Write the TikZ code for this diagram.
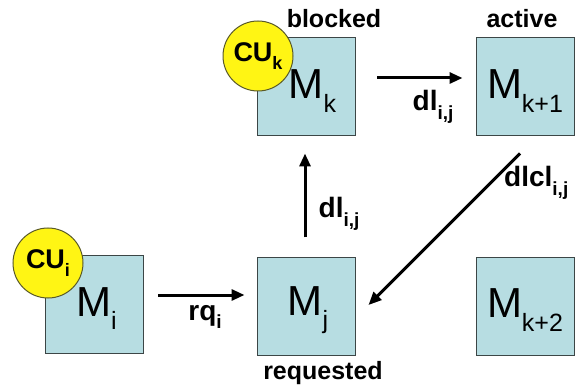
\documentclass[tikz,border=0pt]{standalone}
\usepackage{fontspec}
\setmainfont{Liberation Sans}
\usetikzlibrary{arrows.meta,calc}
\definecolor{boxfill}{RGB}{183,221,226}
\definecolor{boxline}{RGB}{60,70,70}
\definecolor{cufill}{RGB}{255,245,20}
\definecolor{culine}{RGB}{90,90,40}
\newcommand{\bigM}[1]{{\fontsize{42}{42}\selectfont M\raisebox{-0.32em}{\fontsize{25}{25}\selectfont #1}}}
\newcommand{\lbl}[2]{{\bfseries\fontsize{28}{28}\selectfont #1\raisebox{-0.3em}{\fontsize{19}{19}\selectfont #2}}}
\newcommand{\culbl}[1]{{\bfseries\fontsize{27}{27}\selectfont CU\raisebox{-0.3em}{\fontsize{18}{18}\selectfont #1}}}
\begin{document}
\begin{tikzpicture}[x=1pt,y=-1pt,
  mbox/.style={draw=boxline,line width=1pt,fill=boxfill,minimum width=98pt,minimum height=98pt,inner sep=0pt},
  cu/.style={circle,draw=culine,line width=1pt,fill=cufill,minimum size=70pt,inner sep=0pt},
  arr/.style={line width=3pt,-{Triangle[length=13pt,width=11pt]}},
  word/.style={font=\bfseries\fontsize{25}{25}\selectfont,inner sep=0pt}]
\path[use as bounding box,fill=white] (0,0) rectangle (575,387);
\node[mbox] (Mi) at (94.5,304.5) {};
\node[mbox] (Mk) at (306.5,87) {};
\node[mbox] (Mk1) at (525,87) {};
\node[mbox] (Mj) at (306,306) {};
\node[mbox] (Mk2) at (525,306) {};
\node (tMi) at ($(Mi)+(2,4)$) {\bigM{i}};
\node (tMk) at ($(Mk)+(6,4)$) {\bigM{k}};
\node (tMk1) at ($(Mk1)+(0,4)$) {\bigM{k+1}};
\node (tMj) at ($(Mj)+(2,4)$) {\bigM{j}};
\node (tMk2) at ($(Mk2)+(0,4)$) {\bigM{k+2}};
\node[cu] (CUk) at (258,56) {\culbl{k}};
\node[cu] (CUi) at (48,263) {\culbl{i}};
\node[word] (blocked) at (334,19) {blocked};
\node[word] (active) at (522,19) {active};
\node[word] (requested) at (323,373) {requested};
\draw[arr,shorten <=21pt,shorten >=13pt] (Mk.east |- 0,78) -- (Mk1.west |- 0,78);
\draw[arr,shorten <=14pt,shorten >=12pt] (Mi.east |- 0,295) -- (Mj.west |- 0,295);
\draw[arr,shorten <=19pt,shorten >=17pt] (Mj.north -| 305,0) -- (Mk.south -| 305,0);
\draw[arr] ($(Mk1.south)+(-5,17)$) -- ($(Mj.east)+(13,-1)$);
\node[inner sep=0pt] (dl1) at (433,107) {\lbl{dl}{i,j}};
\node[inner sep=0pt] (dl2) at (339,214) {\lbl{dl}{i,j}};
\node[inner sep=0pt,anchor=west] (dlcl) at (504,183) {\lbl{dlcl}{i,j}};
\node[inner sep=0pt] (rq) at (205,317) {\lbl{rq}{i}};
\end{tikzpicture}
\end{document}
